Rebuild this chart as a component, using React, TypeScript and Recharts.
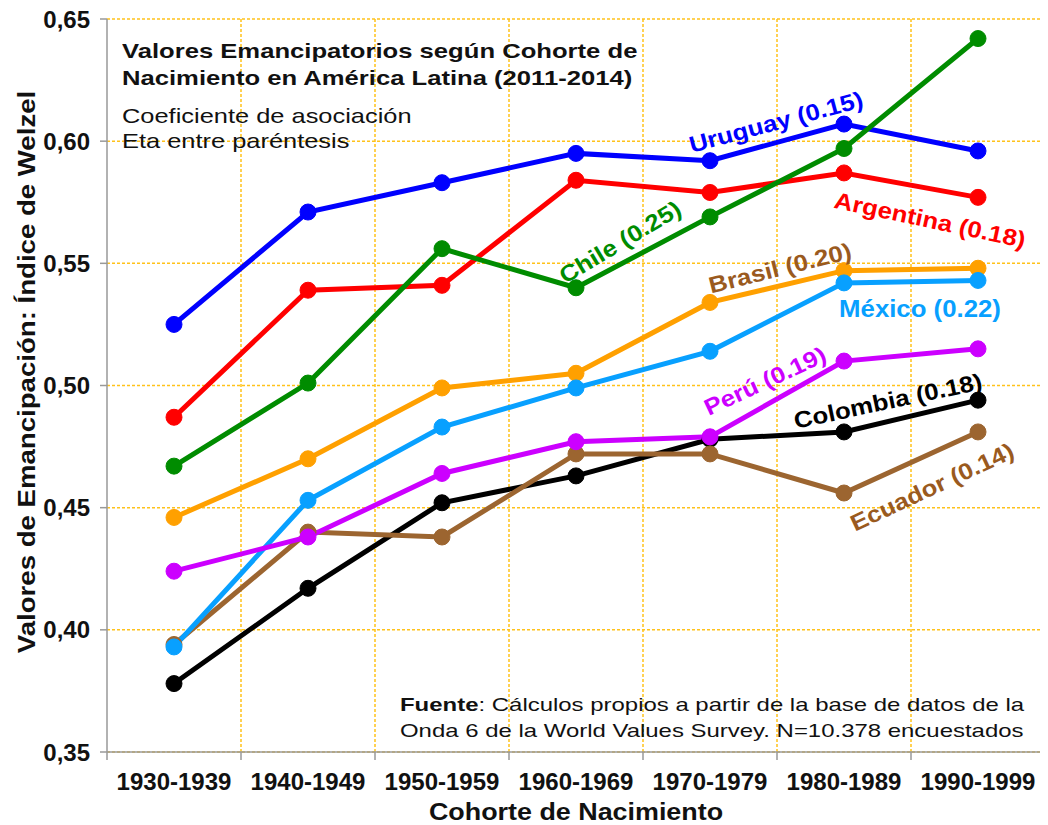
import React from 'react';
import { LineChart, Line, XAxis, YAxis, CartesianGrid } from 'recharts';

const cohorts = ['1930-1939', '1940-1949', '1950-1959', '1960-1969', '1970-1979', '1980-1989', '1990-1999'];

const uruguay = [0.525, 0.571, 0.583, 0.595, 0.592, 0.607, 0.596];
const argentina = [0.487, 0.539, 0.541, 0.584, 0.579, 0.587, 0.577];
const chile = [0.467, 0.501, 0.556, 0.540, 0.569, 0.597, 0.642];
const brasil = [0.446, 0.470, 0.499, 0.505, 0.534, 0.547, 0.548];
const mexico = [0.393, 0.453, 0.483, 0.499, 0.514, 0.542, 0.543];
const peru = [0.424, 0.438, 0.464, 0.477, 0.479, 0.510, 0.515];
const colombia = [0.378, 0.417, 0.452, 0.463, 0.478, 0.481, 0.494];
const ecuador = [0.394, 0.440, 0.438, 0.472, 0.472, 0.456, 0.481];

const yTicks = [0.35, 0.4, 0.45, 0.5, 0.55, 0.6, 0.65];

const data = cohorts.map((c, i) => ({
    cohort: c,
    uruguay: uruguay[i],
    argentina: argentina[i],
    chile: chile[i],
    brasil: brasil[i],
    mexico: mexico[i],
    peru: peru[i],
    colombia: colombia[i],
    ecuador: ecuador[i],
}));

// draw order: later ones sit on top
const series = [
    { key: 'colombia', color: '#000000' },
    { key: 'ecuador', color: '#9c6530' },
    { key: 'brasil', color: '#ffa000' },
    { key: 'mexico', color: '#08a0ff' },
    { key: 'peru', color: '#cc00ff' },
    { key: 'argentina', color: '#ff0000' },
    { key: 'uruguay', color: '#0000ff' },
    { key: 'chile', color: '#008c00' },
];

// series labels: centre (page px), rotation, colour
const seriesLabels = [
    { text: 'Uruguay (0.15)', x: 776, y: 122, rot: -15, color: '#0000ff' },
    { text: 'Argentina (0.18)', x: 930, y: 220, rot: 12, color: '#ff0000' },
    { text: 'Chile (0.25)', x: 620, y: 242, rot: -31, color: '#008c00' },
    { text: 'Brasil (0.20)', x: 780, y: 268, rot: -14, color: '#9a5a1e' },
    { text: 'México (0.22)', x: 920, y: 309, rot: 0, color: '#08a0ff' },
    { text: 'Perú (0.19)', x: 765, y: 381, rot: -25, color: '#cc00ff' },
    { text: 'Colombia (0.18)', x: 888, y: 401, rot: -12, color: '#000000' },
    { text: 'Ecuador (0.14)', x: 932, y: 487, rot: -25, color: '#9a5a1e' },
];

const FONT = '"Liberation Sans", Arial, sans-serif';
const W = 1040;
const H = 817;
const BAND = 938 / 7;

const CohortTick = ({ x, y, payload, index }: any) => (
    <g>
        <line x1={x - BAND / 2} x2={x - BAND / 2} y1={y} y2={y + 8} stroke="#999" strokeWidth={1.5} />
        {index === cohorts.length - 1 && (
            <line x1={x + BAND / 2} x2={x + BAND / 2} y1={y} y2={y + 8} stroke="#999" strokeWidth={1.5} />
        )}
        <text x={x} y={y + 38} textAnchor="middle" fontFamily={FONT} fontWeight="bold" fontSize={24} fill="#111">
            {payload.value}
        </text>
    </g>
);

const abs = (left: number, top: number, extra: React.CSSProperties = {}): React.CSSProperties => ({
    position: 'absolute', left: left - 8, top: top - 8, fontFamily: FONT, whiteSpace: 'nowrap', ...extra,
});

export default function App() {
    return (
        <div style={{ position: 'relative', width: W, height: H, background: '#fff' }}>
            <LineChart width={W} height={H} data={data} margin={{ top: 11, right: 3, left: 0, bottom: 0 }}>
                <CartesianGrid
                    stroke="#ffc21a"
                    strokeWidth={1.5}
                    strokeDasharray="3 2"
                    verticalCoordinatesGenerator={({ offset }: any) =>
                        [1, 2, 3, 4, 5, 6].map(i => offset.left + (i * offset.width) / 7)
                    }
                />
                <XAxis
                    dataKey="cohort"
                    height={73}
                    padding={{ left: BAND / 2, right: BAND / 2 }}
                    axisLine={{ stroke: '#999', strokeWidth: 1.5 }}
                    tickLine={false}
                    tickSize={0}
                    tickMargin={0}
                    interval={0}
                    tick={<CohortTick />}
                />
                <YAxis
                    width={99}
                    domain={[0.35, 0.65]}
                    ticks={yTicks}
                    interval={0}
                    tickFormatter={(v: number) => v.toFixed(2).replace('.', ',')}
                    axisLine={{ stroke: '#999', strokeWidth: 1.5 }}
                    tickLine={{ stroke: '#999', strokeWidth: 1.5 }}
                    tickSize={7}
                    tickMargin={10}
                    tick={{ fontFamily: FONT, fontWeight: 'bold', fontSize: 24, fill: '#111' }}
                />
                {series.map(s => (
                    <Line
                        key={s.key}
                        dataKey={s.key}
                        stroke={s.color}
                        strokeWidth={5}
                        dot={{ r: 8, fill: s.color, stroke: s.color, strokeWidth: 1 }}
                        activeDot={false}
                        isAnimationActive={false}
                    />
                ))}
            </LineChart>

            {/* title block */}
            <div style={abs(122, 37, { fontSize: 21, fontWeight: 'bold', lineHeight: '27px', color: '#111', transform: 'scaleX(1.22)', transformOrigin: 'left top' })}>
                Valores Emancipatorios según Cohorte de<br />Nacimiento en América Latina (2011-2014)
            </div>
            <div style={abs(122, 103, { fontSize: 21, lineHeight: '25px', color: '#111', transform: 'scaleX(1.21)', transformOrigin: 'left top' })}>
                Coeficiente de asociación<br />Eta entre paréntesis
            </div>

            {/* source */}
            <div style={abs(400, 692, { fontSize: 19, lineHeight: '26px', color: '#111', transform: 'scaleX(1.26)', transformOrigin: 'left top' })}>
                <b>Fuente</b>: Cálculos propios a partir de la base de datos de la<br />
                Onda 6 de la World Values Survey. N=10.378 encuestados
            </div>

            {/* axis titles */}
            <div style={abs(576, 800, { fontSize: 24, fontWeight: 'bold', lineHeight: '24px', transform: 'translateX(-50%) scaleX(1.12)', color: '#111' })}>
                Cohorte de Nacimiento
            </div>
            <div style={abs(27, 372, { fontSize: 23, fontWeight: 'bold', lineHeight: '24px', transform: 'translate(-50%,-50%) rotate(-90deg) scaleX(1.2)', color: '#111' })}>
                Valores de Emancipación: Índice de Welzel
            </div>

            {seriesLabels.map(l => (
                <div
                    key={l.text}
                    style={abs(l.x, l.y, {
                        fontSize: 23, fontWeight: 'bold', lineHeight: '24px', color: l.color,
                        transform: `translate(-50%,-50%) rotate(${l.rot}deg) scaleX(1.12)`,
                    })}
                >
                    {l.text}
                </div>
            ))}
        </div>
    );
}
